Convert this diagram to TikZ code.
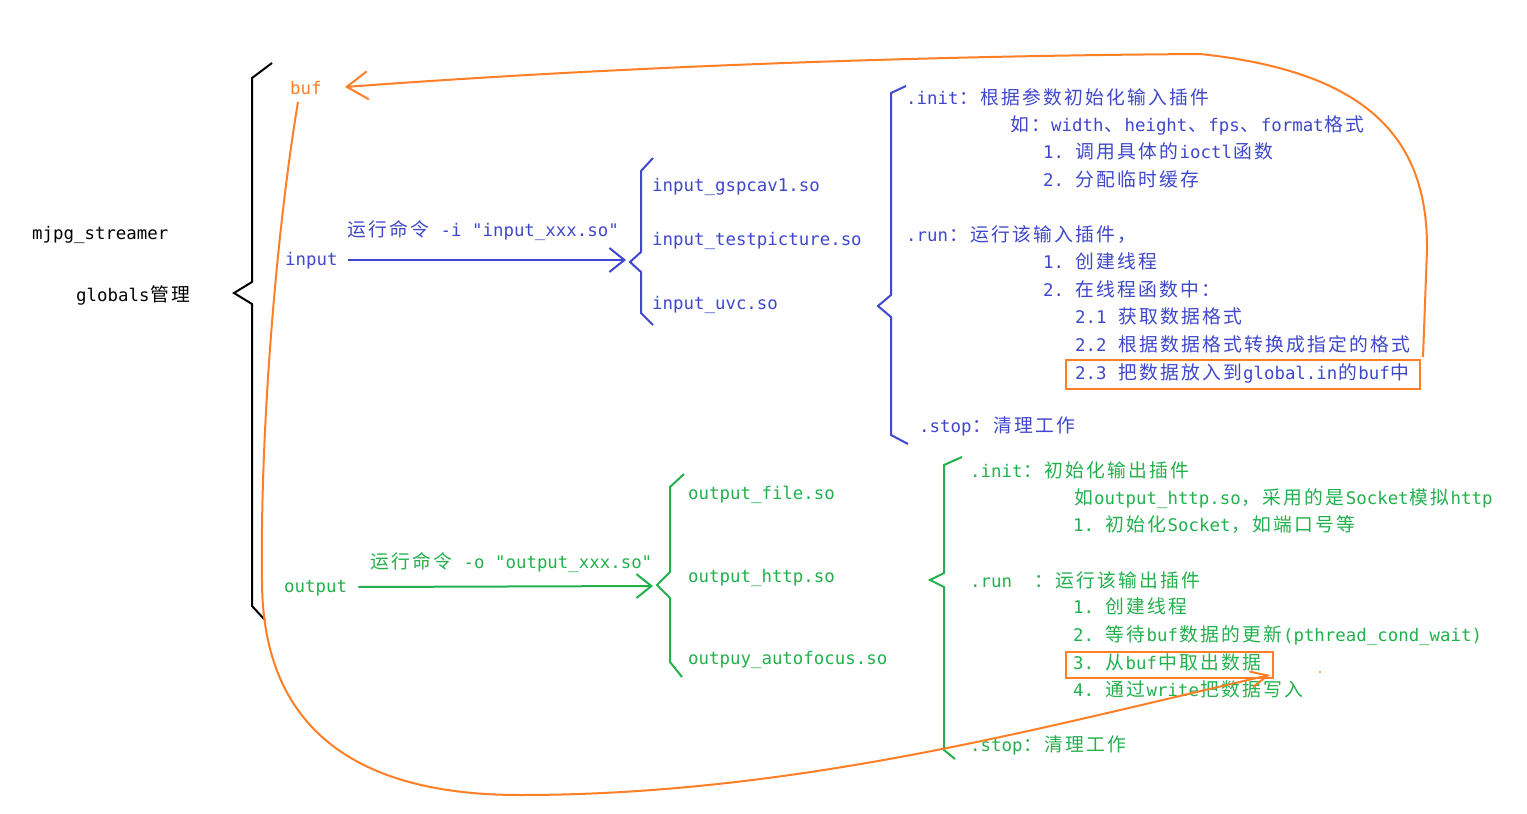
\documentclass[tikz,border=0pt]{standalone}
\usepackage{fontspec}
\setmainfont{DejaVu Sans Mono}[Ligatures=TeXOff]
\newfontfamily\cjkfont[Scale=1.08]{Noto Sans CJK SC}
\usetikzlibrary{arrows.meta}
\definecolor{ob}{HTML}{3F48CC}
\definecolor{og}{HTML}{22B14C}
\definecolor{oo}{HTML}{FF7F27}
\def\zhend{}
\newcommand\zh[1]{\zhloop#1\zhend}
\def\zhloop#1{\ifx#1\zhend\else\hbox to 21pt{\hss\cjkfont#1\hss}\expandafter\zhloop\fi}
\newcommand\fs{\fontsize{17.4pt}{20pt}\selectfont\frenchspacing}
\tikzset{
  txt/.style={anchor=west, inner sep=0pt, text height=14pt, text depth=4pt, font=\fs},
  brc/.style={line width=2pt, line join=miter},
  barrow/.style={line width=2pt, -{Straight Barb[length=15pt,width=24pt]}},
  orarrow/.style={oo, line width=2pt, -{Straight Barb[length=21pt,width=28pt]}},
  orarrowb/.style={oo, line width=2pt, -{Straight Barb[length=17pt,width=16pt]}},
  obox/.style={oo, line width=2pt}
}
\begin{document}
\begin{tikzpicture}[x=1pt,y=-1pt]
\useasboundingbox (0,0) rectangle (1527,814);
\fill[white] (0,0) rectangle (1527,814);

% black
\node[txt] (mjpg) at (32,234) {mjpg\_streamer};
\node[txt] (globals) at (76,296) {globals\zh{管理}};
\draw[brc] (272,63) -- (252,78) -- (252,282) -- (234,293) -- (252,304) -- (252,606) -- (265,620);

% orange buf
\node[txt, text=oo] (buf) at (290,89) {buf};

% blue input
\node[txt, text=ob] (input) at (285,260) {input};
\node[txt, text=ob] (ilabel) at (346,231) {\zh{运行命令} -i \symbol{34}input\_xxx.so\symbol{34}};
\coordinate (ibtip) at (626,260);
\draw[barrow, ob] ([xshift=10.5pt]input.east) -- (ibtip);
\draw[brc, ob] (653,158) -- (641,171) -- (641,252) -- (630,262) -- (641,272) -- (641,313) -- (653,325);
\node[txt, text=ob] (i1) at (652,186) {input\_gspcav1.so};
\node[txt, text=ob] (i2) at (652,240) {input\_testpicture.so};
\node[txt, text=ob] (i3) at (652,304) {input\_uvc.so};

\draw[brc, ob] (906,86) -- (891,93) -- (891,295) -- (878,306) -- (891,317) -- (891,435) -- (908,444);
\node[txt, text=ob] (b1) at (906,99) {.init\zh{：根据参数初始化输入插件}};
\node[txt, text=ob] (b2) at (1009,126) {\zh{如：}width\zh{、}height\zh{、}fps\zh{、}format\zh{格式}};
\node[txt, text=ob] (b3) at (1043,153) {1. \zh{调用具体的}ioctl\zh{函数}};
\node[txt, text=ob] (b4) at (1043,181) {2. \zh{分配临时缓存}};
\node[txt, text=ob] (b5) at (906,236) {.run\zh{：运行该输入插件，}};
\node[txt, text=ob] (b6) at (1043,263) {1. \zh{创建线程}};
\node[txt, text=ob] (b7) at (1043,291) {2. \zh{在线程函数中：}};
\node[txt, text=ob] (b8) at (1075,318) {2.1 \zh{获取数据格式}};
\node[txt, text=ob] (b9) at (1075,346) {2.2 \zh{根据数据格式转换成指定的格式}};
\node[txt, text=ob] (b10) at (1075,374) {2.3 \zh{把数据放入到}global.in\zh{的}buf\zh{中}};
\node[txt, text=ob] (b11) at (919,427) {.stop\zh{：清理工作}};
\draw[obox] (1066,360) rectangle (1420,389);

% green output
\node[txt, text=og] (output) at (284,587) {output};
\node[txt, text=og] (olabel) at (369,563) {\zh{运行命令} -o \symbol{34}output\_xxx.so\symbol{34}};
\coordinate (obtip) at (653,586);
\draw[barrow, og] ([xshift=11pt]output.east) -- (obtip);
\draw[brc, og] (684,474) -- (670,487) -- (670,572) -- (657,585) -- (670,598) -- (670,662) -- (682,677);
\node[txt, text=og] (o1) at (688,494) {output\_file.so};
\node[txt, text=og] (o2) at (688,577) {output\_http.so};
\node[txt, text=og] (o3) at (688,659) {outpuy\_autofocus.so};

\draw[brc, og] (962,457) -- (944,465) -- (944,573) -- (930,580) -- (944,587) -- (944,750) -- (955,759);
\node[txt, text=og] (g1) at (970,472) {.init\zh{：初始化输出插件}};
\node[txt, text=og] (g2) at (1073,499) {\zh{如}output\_http.so\zh{，采用的是}Socket\zh{模拟}http};
\node[txt, text=og] (g3) at (1073,526) {1. \zh{初始化}Socket\zh{，如端口号等}};
\node[txt, text=og] (g4) at (970,582) {.run~~\zh{：运行该输出插件}};
\node[txt, text=og] (g5) at (1073,608) {1. \zh{创建线程}};
\node[txt, text=og] (g6) at (1073,636) {2. \zh{等待}buf\zh{数据的更新}(pthread\_cond\_wait)};
\node[txt, text=og] (g7) at (1073,664) {3. \zh{从}buf\zh{中取出数据}};
\node[txt, text=og] (g8) at (1073,691) {4. \zh{通过}write\zh{把数据写入}};
\node[txt, text=og] (g9) at (970,746) {.stop\zh{：清理工作}};
\draw[obox] (1066,652) rectangle (1273,678);

% orange connectors
\coordinate (r23) at (1423,357);
\coordinate (buftip) at (345,87);
\draw[orarrow] (r23) -- (1427,250) .. controls (1428,140) and (1370,72) .. (1200,54)
  .. controls (900,56) and (600,68) .. (buftip);
\coordinate (bufout) at (298,102);
\coordinate (g7tip) at (1270,675);
\draw[orarrowb] (bufout) .. controls (275,240) and (260,440) .. (262,580)
  .. controls (262,760) and (400,795) .. (520,795)
  .. controls (800,795) and (1050,725) .. (g7tip);
\fill[oo] (1320,672) circle (1.2);
\end{tikzpicture}
\end{document}
